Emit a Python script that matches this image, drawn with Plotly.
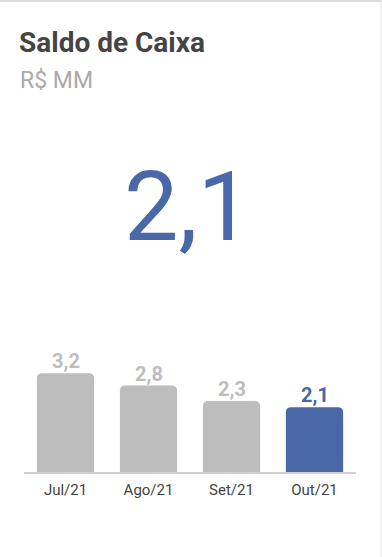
import plotly.graph_objects as go

categories = ["Jul/21", "Ago/21", "Set/21", "Out/21"]
values = [3.2, 2.8, 2.3, 2.1]
title_text = "Saldo de Caixa"
unit_text = "R$ MM"
headline_value = 2.1

GRAY = "#bdbdbd"
BLUE = "#4a67a8"
bar_colors = [GRAY, GRAY, GRAY, BLUE]
fmt = lambda v: f"{v:.1f}".replace(".", ",")
labels = [fmt(v) for v in values]

W, H = 382, 557
L, R, T, B = 24, 26, 333, 85
pw, ph = W - L - R, H - T - B

def px(x):
    return (x - L) / pw

def py(y):
    return (H - B - y) / ph

fig = go.Figure(go.Bar(
    x=categories, y=values, marker_color=bar_colors, marker_line_width=0,
    hoverinfo="skip",
))

value_labels = [
    dict(text=f"<b>{lab}</b>", x=c, y=v, xref="x", yref="y", xanchor="center",
         yanchor="bottom", yshift=-2, showarrow=False,
         font=dict(family="Roboto", size=20, color=col))
    for c, v, lab, col in zip(categories, values, labels, bar_colors)
]

fig.update_layout(
    width=W, height=H, margin=dict(l=L, r=R, t=T, b=B),
    paper_bgcolor="white", plot_bgcolor="white",
    bargap=0.31, barcornerradius=5, showlegend=False,
    font=dict(family="Roboto"),
    xaxis=dict(showgrid=False, showline=True, linecolor="#d0d0d0", linewidth=2,
               ticks="", ticklabelstandoff=3,
               tickfont=dict(family="Roboto", size=15, color="#444444")),
    yaxis=dict(range=[0, 4.5], visible=False, showgrid=False, zeroline=False),
    annotations=value_labels + [
        dict(text=f"<b>{title_text}</b>", x=px(17), y=py(24), xref="paper", yref="paper",
             xanchor="left", yanchor="top", showarrow=False,
             font=dict(family="Roboto", size=28, color="#444444")),
        dict(text=unit_text, x=px(18), y=py(65), xref="paper", yref="paper",
             xanchor="left", yanchor="top", showarrow=False,
             font=dict(family="Roboto", size=23, color="#aaaaaa")),
        dict(text=fmt(headline_value), x=px(188), y=py(207), xref="paper", yref="paper",
             xanchor="center", yanchor="middle", showarrow=False,
             font=dict(family="Roboto", size=97, color=BLUE)),
    ],
    shapes=[
        dict(type="line", xref="paper", yref="paper", x0=px(0), x1=px(382), y0=py(1), y1=py(1),
             line=dict(color="#dcdcdc", width=2)),
        dict(type="line", xref="paper", yref="paper", x0=px(381), x1=px(381), y0=py(0), y1=py(557),
             line=dict(color="#e6e6e6", width=1)),
    ],
)

fig.write_html("out.html", config={"displayModeBar": False},
               post_script="document.body.style.margin='0';document.body.style.overflow='hidden';")
